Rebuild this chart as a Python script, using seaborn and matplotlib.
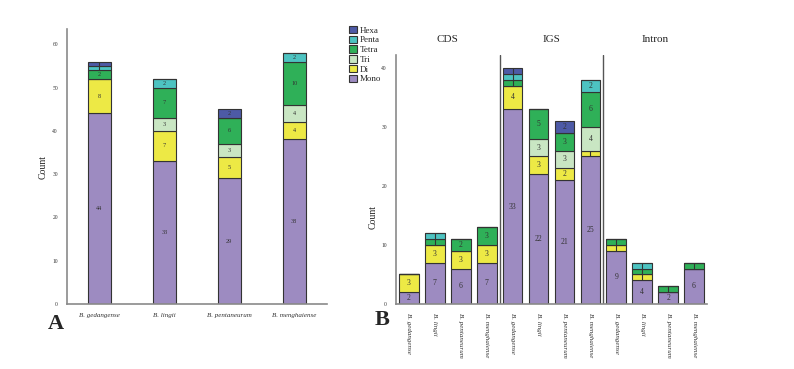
import numpy as np
import pandas as pd
import matplotlib
matplotlib.use('Agg')
import matplotlib.pyplot as plt
from matplotlib.patches import Patch
import seaborn as sns

# motif types, stacked bottom -> top = Mono ... Hexa
motifs = ['Hexa', 'Penta', 'Tetra', 'Tri', 'Di', 'Mono']
species = ['B. gedangense', 'B. lingii', 'B. pentaneurum', 'B. menghaiense']
regions = ['CDS', 'IGS', 'Intron']

colors = {
    'Mono': '#9d8bc1',
    'Di': '#ede945',
    'Tri': '#c9e6c3',
    'Tetra': '#2fb058',
    'Penta': '#4dc3c1',
    'Hexa': '#4d5aa6',
}

# panel A: totals per species
a_mono = [44, 33, 29, 38]
a_di = [8, 7, 5, 4]
a_tri = [0, 3, 3, 4]
a_tetra = [2, 7, 6, 10]
a_penta = [1, 2, 0, 2]
a_hexa = [1, 0, 2, 0]

# panel B: per region (CDS x4, IGS x4, Intron x4)
b_mono = [2, 7, 6, 7, 33, 22, 21, 25, 9, 4, 2, 6]
b_di = [3, 3, 3, 3, 4, 3, 2, 1, 1, 1, 0, 0]
b_tri = [0, 0, 0, 0, 0, 3, 3, 4, 0, 0, 0, 0]
b_tetra = [0, 1, 2, 3, 1, 5, 3, 6, 1, 1, 1, 1]
b_penta = [0, 1, 0, 0, 1, 0, 0, 2, 0, 1, 0, 0]
b_hexa = [0, 0, 0, 0, 1, 0, 2, 0, 0, 0, 0, 0]

serif = ['Liberation Serif', 'DejaVu Serif']
sns.set_style('white')
plt.rcParams['font.family'] = serif


def to_long(series):
    rows = []
    for m, vals in series.items():
        for i, v in enumerate(vals):
            if v > 0:
                rows.append({'pos': i, 'motif': m, 'n': v})
    return pd.DataFrame(rows)


def draw_panel(ax, series, shrink, label_size):
    df = to_long(series)
    sns.histplot(data=df, x='pos', hue='motif', weights='n', discrete=True,
                 multiple='stack', hue_order=motifs, palette=colors,
                 shrink=shrink, edgecolor='#333333', linewidth=0.8,
                 alpha=1, legend=False, ax=ax)
    # segment labels
    order = ['Mono', 'Di', 'Tri', 'Tetra', 'Penta', 'Hexa']
    n = len(series['Mono'])
    for i in range(n):
        base = 0
        for m in order:
            v = series[m][i]
            if v == 0:
                continue
            if v == 1:
                ax.vlines(i, base, base + v, color='#333333', lw=0.8)
            else:
                ax.text(i, base + v / 2, str(v), ha='center', va='center',
                        fontsize=label_size, color='#333333')
            base += v
    for s in ['top', 'right']:
        ax.spines[s].set_visible(False)
    for s in ['left', 'bottom']:
        ax.spines[s].set_color('#8a8a8a')
        ax.spines[s].set_linewidth(1.2)
    ax.tick_params(axis='both', direction='out', length=3, width=0.8,
                   colors='#555555', labelcolor='#333333')
    ax.tick_params(axis='y', labelsize=4)
    ax.set_xlabel('')
    ax.set_ylabel('Count', fontsize=7)


fig = plt.figure(figsize=(7.94, 3.69), dpi=100)

# panel A
axA = fig.add_axes([0.0844, 0.1762, 0.327, 0.745])
draw_panel(axA, {'Mono': a_mono, 'Di': a_di, 'Tri': a_tri, 'Tetra': a_tetra,
                 'Penta': a_penta, 'Hexa': a_hexa}, 0.35, 4.5)
axA.set_xlim(-0.5, 3.5)
axA.set_ylim(0, 63.5)
axA.set_yticks(range(0, 70, 10))
axA.set_xticks(range(len(species)))
axA.set_xticklabels(species, fontsize=5, style='italic')
axA.yaxis.set_label_coords(-0.075, 0.5)

# panel B
axB = fig.add_axes([0.4987, 0.1762, 0.3917, 0.675])
draw_panel(axB, {'Mono': b_mono, 'Di': b_di, 'Tri': b_tri, 'Tetra': b_tetra,
                 'Penta': b_penta, 'Hexa': b_hexa}, 0.76, 5.5)
axB.set_xlim(-0.5, 11.5)
axB.set_ylim(0, 42.2)
axB.set_yticks(range(0, 50, 10))
axB.set_xticks(range(len(species) * len(regions)))
axB.set_xticklabels(species * len(regions), fontsize=5, style='italic',
                    rotation=270, va='top')
axB.yaxis.set_label_coords(-0.06, 0.35)
for k in range(1, len(regions)):
    axB.axvline(k * len(species) - 0.5, color='#555555', lw=1.0)
for k, r in enumerate(regions):
    axB.text(k * len(species) + (len(species) - 1) / 2, 44.8, r,
             ha='center', va='center', fontsize=8, clip_on=False)

# legend
handles = [Patch(facecolor=colors[m], edgecolor='#333333', linewidth=0.8, label=m)
           for m in motifs]
fig.legend(handles=handles, loc='upper left', bbox_to_anchor=(0.435, 0.94),
           frameon=False, fontsize=6.5, handlelength=0.9, handleheight=0.9,
           handletextpad=0.3, labelspacing=0.1, borderaxespad=0)

fig.text(0.06, 0.148, 'A', fontsize=16, fontweight='bold', va='top')
fig.text(0.472, 0.16, 'B', fontsize=16, fontweight='bold', va='top')

fig.savefig('out.png', dpi=100)
